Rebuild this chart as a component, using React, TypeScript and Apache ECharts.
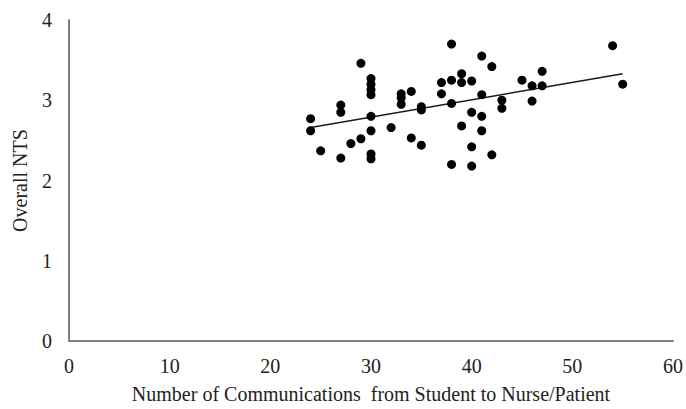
import React, { useEffect, useRef } from "react";
import * as echarts from "echarts";

const communications = [
  24, 24, 25, 27, 27, 27, 28, 29, 29, 30, 30, 30, 30, 30, 30, 30, 30,
  32, 33, 33, 33, 34, 34, 35, 35, 35, 37, 37, 38, 38, 38, 38, 39, 39, 39,
  40, 40, 40, 40, 41, 41, 41, 41, 42, 42, 43, 43, 45, 46, 46, 47, 47, 54, 55,
];
const ntsScores = [
  2.77, 2.62, 2.37, 2.94, 2.85, 2.28, 2.46, 3.46, 2.52, 3.27, 3.2, 3.13, 3.07, 2.8, 2.62, 2.33, 2.27,
  2.66, 3.08, 3.03, 2.95, 3.11, 2.53, 2.92, 2.88, 2.44, 3.22, 3.08, 3.7, 3.25, 2.96, 2.2, 3.33, 3.22, 2.68,
  3.24, 2.85, 2.42, 2.18, 3.55, 3.07, 2.8, 2.62, 3.42, 2.32, 3.0, 2.9, 3.25, 3.18, 2.99, 3.36, 3.18, 3.68, 3.2,
];
const trendX = [24, 55];
const trendY = [2.66, 3.33];
const xTicks = [0, 10, 20, 30, 40, 50, 60];
const yTicks = [0, 1, 2, 3, 4];

const FONT = "Liberation Serif";

export default function App() {
  const ref = useRef<HTMLDivElement>(null);
  useEffect(() => {
    if (!ref.current) return;
    const chart = echarts.init(ref.current, undefined, { renderer: "svg" });
    const points = communications.map((c, i) => [c, ntsScores[i]]);
    const trend = trendX.map((x, i) => [x, trendY[i]]);
    chart.setOption({
      animation: false,
      backgroundColor: "#ffffff",
      grid: { left: 69, right: 10, top: 20, bottom: 63 },
      xAxis: {
        type: "value",
        min: xTicks[0],
        max: xTicks[xTicks.length - 1],
        interval: 10,
        name: "Number of Communications  from Student to Nurse/Patient",
        nameLocation: "middle",
        nameGap: 43,
        nameTextStyle: { fontFamily: FONT, fontSize: 20, color: "#222" },
        axisLine: { lineStyle: { color: "#808080", width: 2 } },
        axisTick: { show: false },
        splitLine: { show: false },
        axisLabel: { fontFamily: FONT, fontSize: 20, color: "#222", margin: 15 },
      },
      yAxis: {
        type: "value",
        min: yTicks[0],
        max: yTicks[yTicks.length - 1],
        interval: 1,
        name: "Overall NTS",
        nameLocation: "middle",
        nameGap: 39,
        nameRotate: 90,
        nameTextStyle: { fontFamily: FONT, fontSize: 20, color: "#222" },
        axisLine: { show: true, lineStyle: { color: "#808080", width: 2 } },
        axisTick: { show: false },
        splitLine: { show: false },
        axisLabel: { fontFamily: FONT, fontSize: 20, color: "#222", margin: 17 },
      },
      series: [
        {
          type: "scatter",
          data: points,
          symbol: "circle",
          symbolSize: 9,
          itemStyle: { color: "#000000", opacity: 1 },
          z: 3,
        },
        {
          type: "line",
          data: trend,
          symbol: "none",
          lineStyle: { color: "#1a1a1a", width: 1.5 },
          z: 2,
        },
      ],
    });
    return () => chart.dispose();
  }, []);
  return <div ref={ref} style={{ width: 686, height: 409, position: "absolute", left: 0, top: 0 }} />;
}
